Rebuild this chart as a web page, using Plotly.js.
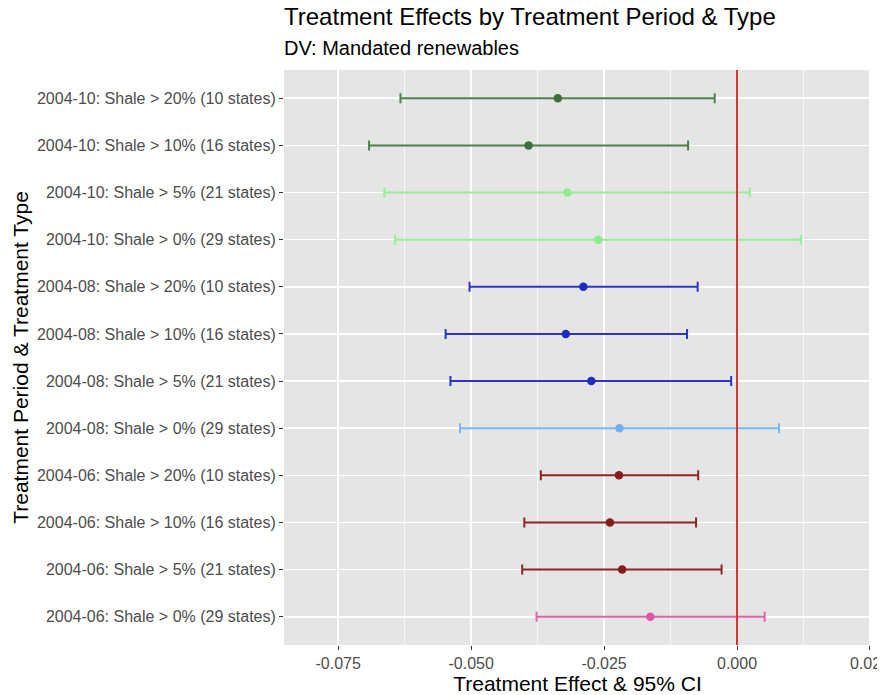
<!DOCTYPE html>
<html>
<head>
<meta charset="utf-8">
<script src="https://cdn.plot.ly/plotly-3.0.1.min.js"></script>
<style>
  html, body { margin: 0; padding: 0; background: #ffffff; overflow: hidden; }
  #chart { width: 877px; height: 695px; overflow: hidden; }
</style>
</head>
<body>
<div id="chart"></div>
<script>
// ---- Data (top row first) ----
const labels = [
  "2004-10: Shale > 20% (10 states)",
  "2004-10: Shale > 10% (16 states)",
  "2004-10: Shale > 5% (21 states)",
  "2004-10: Shale > 0% (29 states)",
  "2004-08: Shale > 20% (10 states)",
  "2004-08: Shale > 10% (16 states)",
  "2004-08: Shale > 5% (21 states)",
  "2004-08: Shale > 0% (29 states)",
  "2004-06: Shale > 20% (10 states)",
  "2004-06: Shale > 10% (16 states)",
  "2004-06: Shale > 5% (21 states)",
  "2004-06: Shale > 0% (29 states)"
];
const estimate = [-0.0337, -0.0392, -0.0319, -0.0261, -0.0289, -0.0322, -0.0274, -0.0221, -0.0222, -0.0239, -0.0216, -0.0163];
const ciLow    = [-0.0633, -0.0692, -0.0663, -0.0643, -0.0503, -0.0548, -0.0539, -0.0521, -0.0369, -0.0400, -0.0404, -0.0377];
const ciHigh   = [-0.0042, -0.0092,  0.0024,  0.0120, -0.0074, -0.0094, -0.0011,  0.0079, -0.0073, -0.0077, -0.0029,  0.0052];
const group    = ["g10a","g10a","g10b","g10b","g08a","g08a","g08a","g08b","g06a","g06a","g06a","g06b"];
const xTicks   = [-0.075, -0.05, -0.025, 0, 0.025];
const xTickText = ["-0.075", "-0.050", "-0.025", "0.000", "0.025"];
const xMinorTicks = [-0.0625, -0.0375, -0.0125, 0.0125];

// ---- Styles ----
const groupStyle = {
  g10a: { line: "#4f7f4f", point: "#3f6e3f" },
  g10b: { line: "#96ee96", point: "#90ea90" },
  g08a: { line: "#2a36c6", point: "#1f2cc0" },
  g08b: { line: "#78b6f4", point: "#72b0f0" },
  g06a: { line: "#8e2424", point: "#861c1c" },
  g06b: { line: "#df62ae", point: "#db58a8" }
};

const traces = Object.keys(groupStyle).map(function (g) {
  const idx = group.map(function (v, i) { return v === g ? i : -1; }).filter(function (i) { return i >= 0; });
  return {
    type: "scatter",
    mode: "markers",
    x: idx.map(function (i) { return estimate[i]; }),
    y: idx.map(function (i) { return labels[i]; }),
    error_x: {
      type: "data",
      symmetric: false,
      array: idx.map(function (i) { return ciHigh[i] - estimate[i]; }),
      arrayminus: idx.map(function (i) { return estimate[i] - ciLow[i]; }),
      color: groupStyle[g].line,
      thickness: 2,
      width: 5
    },
    marker: { color: groupStyle[g].point, size: 8.5 },
    showlegend: false,
    hoverinfo: "x+y"
  };
});

const font = "'Liberation Sans', Arial, Helvetica, sans-serif";

const layout = {
  width: 877,
  height: 695,
  margin: { l: 284, r: 6, t: 70, b: 50 },
  paper_bgcolor: "#ffffff",
  plot_bgcolor: "#e5e5e5",
  font: { family: font, color: "#000000" },
  title: {
    text: "Treatment Effects by Treatment Period & Type",
    font: { family: font, size: 24, color: "#000000" },
    xref: "paper", x: 0, xanchor: "left",
    yref: "container", y: 1 - 17 / 695, yanchor: "middle"
  },
  annotations: [{
    text: "DV: Mandated renewables",
    xref: "paper", x: 0, xanchor: "left", xshift: -2,
    yref: "paper", y: 1 + 22 / 575, yanchor: "middle",
    showarrow: false,
    font: { family: font, size: 20, color: "#000000" }
  }],
  xaxis: {
    range: [-0.0852, 0.0252],
    tickmode: "array",
    tickvals: xTicks,
    ticktext: xTickText,
    ticks: "outside",
    ticklen: 4,
    tickwidth: 1,
    tickcolor: "#333333",
    tickfont: { family: font, size: 16, color: "#4d4d4d" },
    ticklabeloverflow: "allow",
    showgrid: true,
    gridcolor: "#ffffff",
    gridwidth: 1.6,
    minor: { tickmode: "array", tickvals: xMinorTicks, showgrid: true, gridcolor: "#ffffff", gridwidth: 0.7, ticks: "" },
    zeroline: false,
    showline: false,
    title: { text: "Treatment Effect & 95% CI", font: { family: font, size: 21, color: "#000000" }, standoff: 2 },
    fixedrange: true
  },
  yaxis: {
    type: "category",
    categoryorder: "array",
    categoryarray: labels.slice().reverse(),
    range: [-0.6, 11.6],
    ticks: "outside",
    ticklen: 4,
    tickwidth: 1,
    tickcolor: "#333333",
    tickfont: { family: font, size: 16, color: "#4d4d4d" },
    showgrid: true,
    gridcolor: "#ffffff",
    gridwidth: 1.6,
    zeroline: false,
    showline: false,
    title: { text: "Treatment Period & Treatment Type", font: { family: font, size: 21, color: "#000000" }, standoff: 2 },
    fixedrange: true
  },
  shapes: [{
    type: "line",
    xref: "x", x0: 0, x1: 0,
    yref: "paper", y0: 0, y1: 1,
    line: { color: "#d93434", width: 2 },
    layer: "above"
  }]
};

Plotly.newPlot("chart", traces, layout, { displayModeBar: false, staticPlot: true });
</script>
</body>
</html>
